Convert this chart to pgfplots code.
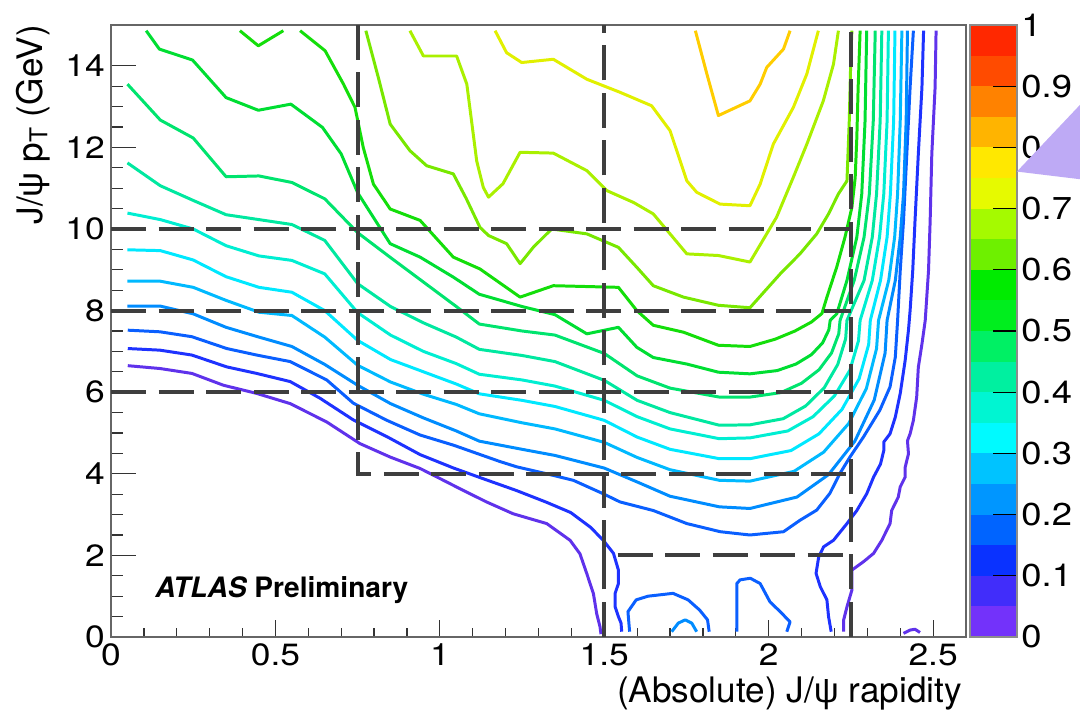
\documentclass[border=0pt]{standalone}
\usepackage{fontspec}
\setmainfont{TeX Gyre Heros}
\newfontfamily\tickfont[FakeStretch=1.15]{TeX Gyre Heros}
\newfontfamily\grfont{Liberation Sans}
\usepackage{pgfplots}
\pgfplotsset{compat=1.18}
\definecolor{dashc}{RGB}{62,62,62}
\definecolor{tri}{RGB}{190,170,245}
% contour line colours
\definecolor{l05}{RGB}{95,50,235}
\definecolor{l10}{RGB}{30,50,255}
\definecolor{l15}{RGB}{10,95,255}
\definecolor{l20}{RGB}{0,140,255}
\definecolor{l25}{RGB}{0,185,255}
\definecolor{l30}{RGB}{0,232,255}
\definecolor{l35}{RGB}{0,238,210}
\definecolor{l40}{RGB}{0,232,160}
\definecolor{l45}{RGB}{0,228,110}
\definecolor{l50}{RGB}{0,222,50}
\definecolor{l55}{RGB}{20,222,10}
\definecolor{l60}{RGB}{120,232,0}
\definecolor{l65}{RGB}{170,240,0}
\definecolor{l70}{RGB}{225,240,0}
\definecolor{l75}{RGB}{255,205,0}
% palette
\definecolor{cb0}{RGB}{115,50,250}
\definecolor{cb1}{RGB}{65,45,250}
\definecolor{cb2}{RGB}{10,50,255}
\definecolor{cb3}{RGB}{0,100,255}
\definecolor{cb4}{RGB}{0,150,255}
\definecolor{cb5}{RGB}{0,195,255}
\definecolor{cb6}{RGB}{0,250,255}
\definecolor{cb7}{RGB}{0,245,210}
\definecolor{cb8}{RGB}{0,240,160}
\definecolor{cb9}{RGB}{0,240,100}
\definecolor{cb10}{RGB}{0,238,30}
\definecolor{cb11}{RGB}{0,235,0}
\definecolor{cb12}{RGB}{110,240,0}
\definecolor{cb13}{RGB}{165,250,0}
\definecolor{cb14}{RGB}{230,250,0}
\definecolor{cb15}{RGB}{255,232,0}
\definecolor{cb16}{RGB}{255,180,0}
\definecolor{cb17}{RGB}{255,130,0}
\definecolor{cb18}{RGB}{255,75,0}
\definecolor{cb19}{RGB}{255,40,0}
\begin{document}
\begin{tikzpicture}
\useasboundingbox (0,0) rectangle (21.6cm,14.3cm);
\begin{axis}[
  at={(2.22cm,1.56cm)}, anchor=south west,
  width=17.1cm, height=12.24cm, scale only axis,
  xmin=0, xmax=2.6, ymin=0, ymax=15,
  axis line style={draw=black!60, line width=0.8pt},
  xtick={0,0.5,1,1.5,2,2.5}, minor x tick num=4,
  ytick={0,2,4,6,8,10,12,14}, minor y tick num=3,
  tick pos=left, tick align=inside,
  x tick style={/pgfplots/major tick length=0.34cm,/pgfplots/minor tick length=0.17cm},
  y tick style={/pgfplots/major tick length=0.49cm,/pgfplots/minor tick length=0.245cm},
  tick style={draw=black!80, line width=0.7pt},
  /pgf/number format/assume math mode=true,
  tick label style={font=\tickfont\fontsize{17.5}{20}\selectfont},
  cl/.style={line width=1.7pt, line join=round, mark=none},
  dsh/.style={dashc, line width=2.2pt, dash pattern=on 0.70cm off 0.25cm, mark=none},
]
% ---- level 0.05
\addplot[cl,l05] coordinates {(0.051,6.65) (0.149,6.58) (0.246,6.46) (0.342,6.17) (0.443,5.97) (0.545,5.72) (0.656,5.27) (0.757,4.74) (0.849,4.41) (0.940,4.13) (1.011,3.84) (1.062,3.63) (1.142,3.31) (1.223,3.02) (1.325,2.78) (1.396,2.37) (1.426,2.04) (1.447,1.55) (1.467,1.06) (1.477,0.57) (1.487,0.25) (1.490,0.07)};
\addplot[cl,l05] coordinates {(2.228,0.13) (2.228,0.42) (2.238,0.74) (2.253,1.15) (2.253,1.64) (2.289,1.85) (2.319,2.05) (2.344,2.37) (2.369,2.78) (2.374,3.10) (2.394,3.43) (2.400,3.68) (2.415,3.92) (2.415,4.16) (2.425,4.49) (2.422,4.81) (2.430,4.98) (2.440,5.31) (2.450,5.88) (2.455,6.61) (2.466,7.18) (2.476,7.76) (2.486,8.98) (2.491,10.21) (2.496,11.84) (2.506,13.47) (2.509,14.86)};
\addplot[cl,l05] coordinates {(2.410,0.09) (2.430,0.17) (2.445,0.19) (2.460,0.11)};
% ---- level 0.10
\addplot[cl,l10] coordinates {(0.051,7.07) (0.149,7.03) (0.246,6.91) (0.352,6.62) (0.443,6.46) (0.545,6.26) (0.636,5.85) (0.737,5.32) (0.839,4.91) (0.940,4.47) (1.042,4.14) (1.142,3.85) (1.233,3.59) (1.325,3.30) (1.398,3.05) (1.458,2.69) (1.497,2.37) (1.528,2.05) (1.543,1.64) (1.543,1.31) (1.533,1.07) (1.533,0.74) (1.543,0.50) (1.551,0.34) (1.553,0.13)};
\addplot[cl,l10] coordinates {(2.190,0.13) (2.182,0.50) (2.177,0.91) (2.157,1.23) (2.144,1.56) (2.152,1.96) (2.167,2.21) (2.197,2.37) (2.238,2.78) (2.268,3.10) (2.298,3.51) (2.319,3.92) (2.340,4.24) (2.350,4.57) (2.350,4.78) (2.369,4.98) (2.385,5.39) (2.400,5.97) (2.415,6.78) (2.425,7.52) (2.430,8.0) (2.438,8.98) (2.445,10.21) (2.455,11.84) (2.466,13.47) (2.471,14.86)};
% ---- level 0.15
\addplot[cl,l15] coordinates {(0.051,7.52) (0.149,7.48) (0.246,7.36) (0.352,7.07) (0.443,6.91) (0.545,6.75) (0.656,6.30) (0.737,5.73) (0.839,5.31) (0.940,4.95) (1.042,4.70) (1.183,4.30) (1.234,4.17) (1.325,4.00) (1.406,3.84) (1.497,3.51) (1.548,3.31) (1.649,3.10) (1.751,2.78) (1.853,2.58) (1.943,2.50) (2.045,2.58) (2.095,2.86) (2.146,3.11) (2.186,3.52) (2.216,4.0) (2.247,4.41) (2.288,4.90) (2.338,5.56) (2.369,6.13) (2.385,6.86) (2.392,7.76) (2.400,8.98) (2.410,10.21) (2.420,11.84) (2.430,13.47) (2.440,14.86)};
\addplot[cl,l15] coordinates {(1.577,0.13) (1.572,0.62) (1.597,0.91) (1.633,1.00) (1.709,1.07) (1.755,0.91) (1.790,0.66) (1.814,0.42) (1.819,0.13)};
\addplot[cl,l15] coordinates {(1.903,0.13) (1.903,1.31) (1.913,1.40) (1.944,1.44) (1.974,1.31) (2.004,0.86) (2.035,0.62) (2.065,0.37) (2.055,0.13)};
% ---- level 0.20
\addplot[cl,l20] coordinates {(1.705,0.13) (1.725,0.34) (1.746,0.42) (1.766,0.34) (1.781,0.13)};
\addplot[cl,l20] coordinates {(0.05,8.11) (0.15,8.11) (0.25,7.92) (0.35,7.59) (0.45,7.35) (0.55,7.12) (0.65,6.68) (0.75,6.17) (0.85,5.72) (0.95,5.37) (1.05,5.05) (1.12,4.80) (1.25,4.60) (1.35,4.45) (1.5,4.14) (1.6,3.80) (1.7,3.45) (1.85,3.19) (1.943,3.15) (2.086,3.43) (2.182,3.98) (2.262,4.80) (2.321,5.81) (2.354,6.96) (2.36,7.76) (2.385,8.74) (2.40,9.8) (2.41,10.86) (2.418,12.65) (2.422,14.86)};
% ---- level 0.25
\addplot[cl,l25] coordinates {(0.05,8.72) (0.15,8.72) (0.25,8.57) (0.35,8.25) (0.45,7.96) (0.55,7.88) (0.65,7.35) (0.75,6.66) (0.85,6.25) (0.95,5.95) (1.05,5.70) (1.12,5.47) (1.25,5.25) (1.35,5.10) (1.5,4.77) (1.6,4.40) (1.7,4.10) (1.85,3.84) (1.943,3.82) (2.077,4.06) (2.167,4.53) (2.243,5.23) (2.297,6.09) (2.328,7.07) (2.334,7.76) (2.365,8.74) (2.383,9.8) (2.392,10.86) (2.40,12.65) (2.405,14.86)};
% ---- level 0.30
\addplot[cl,l30] coordinates {(0.05,9.49) (0.15,9.47) (0.25,9.24) (0.35,8.83) (0.45,8.57) (0.55,8.45) (0.65,8.00) (0.75,7.27) (0.85,6.80) (0.95,6.50) (1.05,6.20) (1.12,5.96) (1.25,5.80) (1.35,5.65) (1.5,5.31) (1.6,4.90) (1.7,4.60) (1.85,4.37) (1.943,4.37) (2.068,4.57) (2.153,4.98) (2.223,5.58) (2.275,6.33) (2.304,7.17) (2.309,7.76) (2.34,8.74) (2.36,9.8) (2.37,10.86) (2.38,12.65) (2.384,14.86)};
% ---- level 0.35
\addplot[cl,l35] coordinates {(0.05,10.39) (0.15,10.23) (0.25,10.0) (0.35,9.59) (0.45,9.34) (0.55,9.23) (0.65,8.90) (0.75,7.95) (0.85,7.40) (0.95,7.00) (1.05,6.70) (1.12,6.44) (1.25,6.30) (1.35,6.15) (1.5,5.80) (1.6,5.40) (1.7,5.10) (1.85,4.86) (1.943,4.88) (2.058,5.05) (2.135,5.40) (2.200,5.91) (2.247,6.54) (2.273,7.26) (2.278,7.76) (2.315,8.74) (2.337,9.8) (2.35,10.86) (2.36,12.65) (2.364,14.86)};
% ---- level 0.40
\addplot[cl,l40] coordinates {(0.05,11.62) (0.15,11.06) (0.25,10.70) (0.35,10.35) (0.45,10.23) (0.55,10.11) (0.65,9.72) (0.75,8.66) (0.85,8.10) (0.95,7.70) (1.05,7.35) (1.12,7.05) (1.25,6.90) (1.35,6.75) (1.5,6.29) (1.6,5.80) (1.7,5.50) (1.85,5.19) (1.943,5.20) (2.044,5.35) (2.112,5.66) (2.169,6.11) (2.210,6.68) (2.234,7.31) (2.238,7.76) (2.29,8.74) (2.315,9.8) (2.328,10.86) (2.339,12.65) (2.344,14.86)};
% ---- level 0.45
\addplot[cl,l45] coordinates {(0.05,13.55) (0.15,12.67) (0.25,12.23) (0.35,11.28) (0.45,11.30) (0.55,11.14) (0.65,10.74) (0.75,9.91) (0.85,9.30) (0.95,8.70) (1.05,8.10) (1.12,7.67) (1.25,7.50) (1.35,7.40) (1.5,6.95) (1.6,6.40) (1.7,6.10) (1.85,5.88) (1.943,5.88) (2.037,5.99) (2.100,6.22) (2.153,6.55) (2.191,6.96) (2.213,7.43) (2.217,7.76) (2.26,8.74) (2.29,9.8) (2.306,10.86) (2.318,12.65) (2.324,14.86)};
% ---- level 0.50
\addplot[cl,l50] coordinates {(0.107,14.86) (0.147,14.41) (0.248,14.14) (0.35,13.22) (0.448,12.91) (0.547,13.06) (0.643,12.49) (0.70,11.84) (0.75,10.89) (0.849,9.64) (0.940,9.31) (1.041,8.82) (1.12,8.40) (1.25,8.10) (1.35,7.90) (1.447,7.43) (1.543,7.59) (1.599,7.10) (1.649,6.85) (1.751,6.69) (1.847,6.49) (1.943,6.45) (2.026,6.53) (2.083,6.69) (2.130,6.92) (2.164,7.21) (2.183,7.53) (2.187,7.76) (2.207,7.92) (2.238,8.74) (2.268,9.80) (2.283,10.86) (2.293,12.65) (2.298,14.86)};
% ---- level 0.55
\addplot[cl,l55] coordinates {(0.392,14.86) (0.448,14.49) (0.524,14.86)};
\addplot[cl,l55] coordinates {(0.575,14.86) (0.651,14.37) (0.707,13.55) (0.742,12.98) (0.767,12.0) (0.798,11.1) (0.849,10.49) (0.940,10.21) (1.041,9.31) (1.122,9.02) (1.244,8.33) (1.345,8.61) (1.543,8.57) (1.599,8.0) (1.649,7.64) (1.741,7.47) (1.847,7.15) (1.943,7.12) (2.02,7.30) (2.08,7.50) (2.13,7.72) (2.162,7.93) (2.177,8.33) (2.207,9.07) (2.232,9.80) (2.253,10.53) (2.263,11.26) (2.268,12.24) (2.272,13.47) (2.278,14.86)};
% ---- level 0.60
\addplot[cl,l60] coordinates {(0.775,14.86) (0.813,13.71) (0.849,12.57) (0.909,11.92) (0.960,11.55) (1.041,11.35) (1.08,10.75) (1.122,10.04) (1.148,9.84) (1.203,9.64) (1.244,9.15) (1.284,9.55) (1.340,10.0) (1.447,9.88) (1.543,9.55) (1.599,9.06) (1.649,8.61) (1.741,8.33) (1.847,8.13) (1.943,8.07) (2.035,8.90) (2.095,9.39) (2.146,9.88) (2.182,10.37) (2.212,10.86) (2.238,11.18) (2.245,12.65) (2.250,14.28) (2.253,14.86)};
% ---- level 0.65
\addplot[cl,l65] coordinates {(0.909,14.86) (0.950,14.24) (1.051,14.24) (1.082,13.55) (1.112,11.67) (1.132,11.02) (1.148,10.78) (1.192,11.11) (1.244,11.88) (1.345,11.86) (1.447,11.43) (1.508,10.94) (1.589,10.65) (1.649,10.37) (1.751,9.39) (1.847,9.35) (1.943,9.19) (2.024,10.29) (2.075,11.27) (2.116,12.08) (2.166,13.14) (2.197,14.04) (2.212,14.86)};
% ---- level 0.70
\addplot[cl,l70] coordinates {(1.168,14.86) (1.203,14.32) (1.249,14.08) (1.345,14.16) (1.447,13.67) (1.548,13.35) (1.644,13.02) (1.700,12.41) (1.751,11.18) (1.781,10.90) (1.852,10.61) (1.943,10.57) (1.974,11.10) (2.014,12.08) (2.075,12.98) (2.116,13.80) (2.151,14.86)};
% ---- level 0.75
\addplot[cl,l75] coordinates {(1.777,14.86) (1.812,13.80) (1.847,12.78) (1.943,13.14) (1.974,13.55) (1.994,13.96) (2.045,14.41) (2.065,14.86)};
% ---- dashed bin boundaries
\addplot[dsh] coordinates {(0,10) (2.25,10)};
\addplot[dsh] coordinates {(0,8) (2.25,8)};
\addplot[dsh] coordinates {(0,6) (2.25,6)};
\addplot[dsh] coordinates {(0.75,15) (0.75,4) (2.25,4)};
\addplot[dsh] coordinates {(1.5,0) (1.5,2) (2.25,2)};
\addplot[dsh] coordinates {(1.5,2) (1.5,15)};
\addplot[dsh] coordinates {(2.25,0) (2.25,15)};
\end{axis}
% ---- colour scale
\begin{axis}[
  at={(19.4cm,1.56cm)}, anchor=south west,
  width=0.94cm, height=12.24cm, scale only axis,
  xmin=0, xmax=1, ymin=0, ymax=1,
  xtick=\empty,
  ytick={0,0.1,0.2,0.3,0.4,0.5,0.6,0.7,0.8,0.9,1},
  yticklabels={0,0.1,0.2,0.3,0.4,0.5,0.6,0.7,0.8,0.9,1},
  ytick pos=right, yticklabel pos=right,
  tick align=inside, major tick length=0.48cm,
  tick style={draw=black, line width=0.6pt},
  axis line style={draw=black!45, line width=0.6pt},
  tick label style={font=\tickfont\fontsize{18}{20}\selectfont},
  yticklabel style={xshift=-1pt},
  axis on top,
]
\addplot[draw=none,fill=cb0] coordinates {(0,0) (1,0) (1,0.05) (0,0.05)};
\addplot[draw=none,fill=cb1] coordinates {(0,0.05) (1,0.05) (1,0.1) (0,0.1)};
\addplot[draw=none,fill=cb2] coordinates {(0,0.1) (1,0.1) (1,0.15) (0,0.15)};
\addplot[draw=none,fill=cb3] coordinates {(0,0.15) (1,0.15) (1,0.2) (0,0.2)};
\addplot[draw=none,fill=cb4] coordinates {(0,0.2) (1,0.2) (1,0.25) (0,0.25)};
\addplot[draw=none,fill=cb5] coordinates {(0,0.25) (1,0.25) (1,0.3) (0,0.3)};
\addplot[draw=none,fill=cb6] coordinates {(0,0.3) (1,0.3) (1,0.35) (0,0.35)};
\addplot[draw=none,fill=cb7] coordinates {(0,0.35) (1,0.35) (1,0.4) (0,0.4)};
\addplot[draw=none,fill=cb8] coordinates {(0,0.4) (1,0.4) (1,0.45) (0,0.45)};
\addplot[draw=none,fill=cb9] coordinates {(0,0.45) (1,0.45) (1,0.5) (0,0.5)};
\addplot[draw=none,fill=cb10] coordinates {(0,0.5) (1,0.5) (1,0.55) (0,0.55)};
\addplot[draw=none,fill=cb11] coordinates {(0,0.55) (1,0.55) (1,0.6) (0,0.6)};
\addplot[draw=none,fill=cb12] coordinates {(0,0.6) (1,0.6) (1,0.65) (0,0.65)};
\addplot[draw=none,fill=cb13] coordinates {(0,0.65) (1,0.65) (1,0.7) (0,0.7)};
\addplot[draw=none,fill=cb14] coordinates {(0,0.7) (1,0.7) (1,0.75) (0,0.75)};
\addplot[draw=none,fill=cb15] coordinates {(0,0.75) (1,0.75) (1,0.8) (0,0.8)};
\addplot[draw=none,fill=cb16] coordinates {(0,0.8) (1,0.8) (1,0.85) (0,0.85)};
\addplot[draw=none,fill=cb17] coordinates {(0,0.85) (1,0.85) (1,0.9) (0,0.9)};
\addplot[draw=none,fill=cb18] coordinates {(0,0.9) (1,0.9) (1,0.95) (0,0.95)};
\addplot[draw=none,fill=cb19] coordinates {(0,0.95) (1,0.95) (1,1) (0,1)};
\end{axis}
\begin{scope}[x=0.02cm,y=0.02cm]
% ---- annotation triangle (cut by the page edge)
\fill[tri] (1016.7,543.3) -- (1110,642) -- (1110,532) -- cycle;
% ---- titles and label
\node[anchor=base east, inner sep=0pt, font=\fontsize{20}{24}\selectfont] at (962,12) {(Absolute) J/{\grfont ψ} rapidity};
\node[anchor=base east, inner sep=0pt, rotate=90, font=\fontsize{20}{24}\selectfont] at (42,690) {J/{\grfont ψ} p\textsubscript{T} (GeV)};
\node[anchor=base west, inner sep=0pt, font=\fontsize{16}{19}\selectfont\bfseries] at (155,117) {\itshape ATLAS\upshape\ Preliminary};
\end{scope}
\end{tikzpicture}
\end{document}
